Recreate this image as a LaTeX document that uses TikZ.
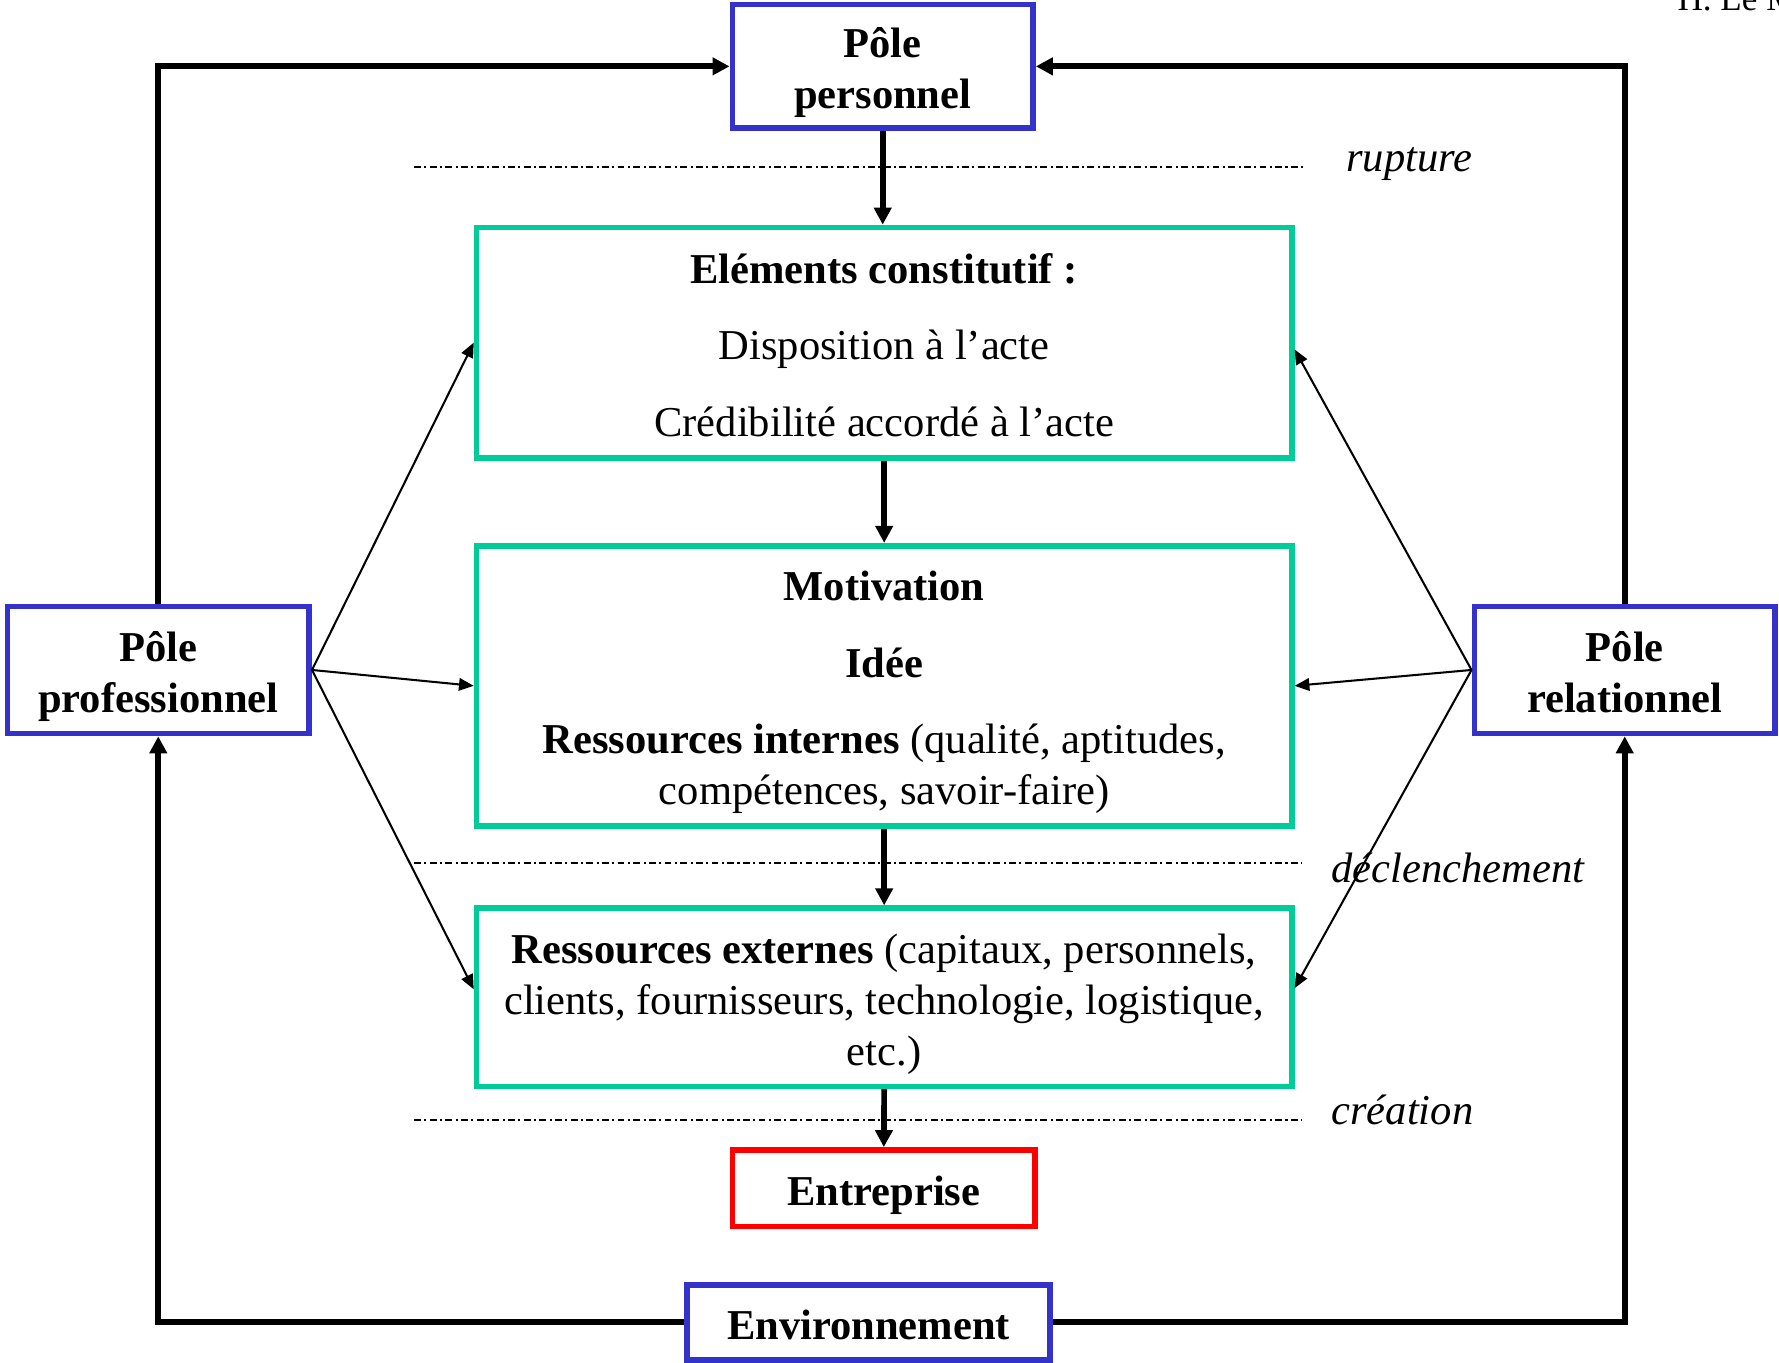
\documentclass[tikz,border=0pt]{standalone}
\usepackage{fontspec}
\setmainfont{Liberation Serif}
\usetikzlibrary{arrows.meta}
\definecolor{poleblue}{RGB}{51,51,204}
\definecolor{boxgreen}{RGB}{0,204,153}
\definecolor{boxred}{RGB}{255,0,0}
\begin{document}
\begin{tikzpicture}[x=1pt,y=-1pt,
  bigfont/.style={font=\fontsize{37.5}{45}\selectfont},
  basebox/.style={line width=5pt, inner sep=0pt, bigfont, align=flush center, text height=30pt},
  pole/.style={basebox, draw=poleblue},
  greenbox/.style={basebox, draw=boxgreen},
  redbox/.style={basebox, draw=boxred},
  loopline/.style={line width=5.5pt, -{Triangle[length=15pt,width=15pt]}},
  mainarrow/.style={line width=5pt, -{Triangle[length=15pt,width=15pt]}},
  thinarrow/.style={line width=1.8pt, -{Triangle[length=13pt,width=11pt]}},
  phase/.style={line width=2pt, dash pattern=on 6pt off 3pt on 1.8pt off 3pt},
  phaselabel/.style={anchor=base west, font=\fontsize{37.5}{45}\selectfont\itshape},
]
\useasboundingbox (0,0) rectangle (1568,1201);

% phase separators
\coordinate (r1) at (365,147);   \coordinate (r2) at (1150,147);
\coordinate (d1) at (365,760.4); \coordinate (d2) at (1147,760.4);
\coordinate (c1) at (365,987);   \coordinate (c2) at (1147,987);
\draw[phase] (r1) -- (r2);
\draw[phase] (d1) -- (d2);
\draw[phase] (c1) -- (c2);
\node[phaselabel] (lrup) at (1183,151) {rupture};
\node[phaselabel] (ldec) at (1170,778) {déclenchement};
\node[phaselabel] (lcre) at (1170,991) {création};

\node[anchor=base west, font=\fontsize{31}{37}\selectfont] (author) at (1475,9) {H. Le M};

% boxes
\node[pole, minimum width=265pt, minimum height=109pt, text width=250pt, text depth=45pt]
  (pers) at (778,58.5) {\textbf{Pôle}\\\textbf{personnel}};
\node[pole, minimum width=266pt, minimum height=112pt, text width=250pt, text depth=45pt]
  (prof) at (139.5,590.5) {\textbf{Pôle}\\\textbf{professionnel}};
\node[pole, minimum width=265pt, minimum height=112pt, text width=250pt, text depth=45pt]
  (rel) at (1432,590.5) {\textbf{Pôle}\\\textbf{relationnel}};
\node[greenbox, minimum width=718.5pt, minimum height=203pt, text width=710pt, text depth=135pt]
  (elem) at (779.3,302) {\textbf{Eléments constitutif :}\\[22.5pt]Disposition à l’acte\\[22.5pt]Crédibilité accordé à l’acte};
\node[greenbox, minimum width=718.5pt, minimum height=247pt, text width=710pt, text depth=180pt]
  (motiv) at (779.3,604.5) {\textbf{Motivation}\\[22.5pt]\textbf{Idée}\\[22.5pt]\textbf{Ressources internes} (qualité, aptitudes,\\compétences, savoir-faire)};
\node[greenbox, minimum width=718.5pt, minimum height=157pt, text width=710pt, text depth=90pt]
  (resext) at (779.3,879) {\textbf{Ressources externes} (capitaux, personnels,\\clients, fournisseurs, technologie, logistique,\\etc.)};
\node[redbox, minimum width=267pt, minimum height=67.5pt, text depth=0pt]
  (entr) at (779,1047.3) {\textbf{Entreprise}};
\node[pole, minimum width=320pt, minimum height=66pt, text depth=0pt]
  (env) at (765.5,1165.5) {\textbf{Environnement}};

% main chain
\draw[mainarrow] (pers.south) -- (pers.south |- elem.north);
\draw[mainarrow] (elem.south) -- (motiv.north);
\draw[mainarrow] (motiv.south) -- (resext.north);
\draw[mainarrow] (resext.south) -- (entr.north);

% loop
\draw[loopline] (prof.north) |- (pers.west);
\draw[loopline] (rel.north) |- (pers.east);
\draw[loopline] (env.west) -| (prof.south);
\draw[loopline] (env.east) -| (rel.south);

% influences
\draw[thinarrow] (prof.east) -- (elem.west);
\draw[thinarrow] (prof.east) -- (motiv.west);
\draw[thinarrow] (prof.east) -- ([yshift=7pt]resext.west);
\draw[thinarrow] (rel.west) -- ([yshift=-6pt]elem.east);
\draw[thinarrow] (rel.west) -- (motiv.east);
\draw[thinarrow] (rel.west) -- ([yshift=8pt]resext.east);
\end{tikzpicture}
\end{document}
